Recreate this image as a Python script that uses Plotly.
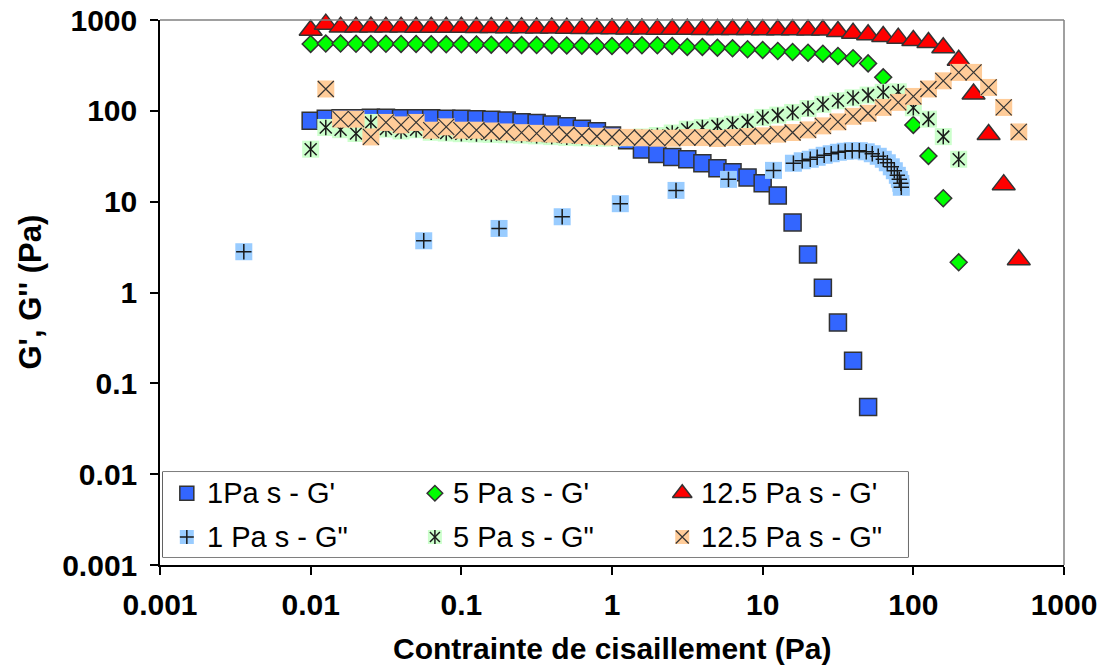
import plotly.graph_objects as go

# ---------------- data ----------------
stress = [0.01, 0.0126, 0.0158, 0.02, 0.0251, 0.0316, 0.0398, 0.0501, 0.0631, 0.0794,
          0.1, 0.126, 0.158, 0.2, 0.251, 0.316, 0.398, 0.501, 0.631, 0.794,
          1.0, 1.26, 1.58, 2.0, 2.51, 3.16, 3.98, 5.01, 6.31, 7.94,
          10.0, 12.6, 15.8, 20.0, 25.1, 31.6, 39.8, 50.1, 63.1, 79.4,
          100, 126, 158, 200, 251, 316, 398, 501]

g1_elastic = [78, 82, 83, 83, 84, 84, 83, 83, 83, 82,
              82, 81, 80, 78.5, 75, 73.5, 70.5, 67.5, 63.5, 59.5,
              53.5, 47.5, 37.5, 33.5, 31, 29.3, 26.5, 23.3, 21.1, 18.5,
              15.9, 11.7, 5.9, 2.62, 1.13, 0.466, 0.177, 0.055]

g5_elastic = [545, 550, 550, 548, 545, 548, 545, 545, 542, 540,
              540, 538, 535, 535, 532, 530, 528, 525, 522, 518,
              518, 527, 527, 527, 518, 505, 505, 496, 488, 476,
              468, 456, 444, 437, 426, 402, 379, 333, 234, 130,
              70, 31.9, 10.9, 2.15]

g12_elastic = [770, 900, 835, 835, 838, 835, 835, 832, 832, 830,
               830, 828, 826, 824, 820, 818, 815, 812, 808, 805,
               800, 798, 795, 793, 790, 790, 788, 786, 785, 784,
               783, 782, 780, 778, 775, 748, 716, 687, 659, 631,
               595, 566, 495, 360, 153, 55, 15.4, 2.3]

g1_visc_stress = [0.0036, 0.0563, 0.178, 0.467, 1.135, 2.66, 5.93, 11.8, 16.0,
                  18.3, 20.7, 23.0, 25.6, 28.5, 31.8, 35.3, 39.3, 43.8, 48.7,
                  53.4, 58.5, 63.2, 67.2, 71.4, 74.8, 78.3, 80.7, 82.6, 83.2]
g1_viscous = [2.81, 3.71, 5.07, 6.82, 9.5, 13.3, 17.6, 22.1, 26.5,
              28.2, 29.3, 30.8, 32.4, 33.7, 35.0, 35.9, 36.4, 36.4, 35.4,
              33.7, 31.6, 29.3, 26.8, 24.2, 21.9, 19.5, 17.6, 15.9, 14.4]

g5_viscous = [37.8, 65.6, 62, 56.3, 74.5, 63, 60, 62, 58, 57,
              56, 55.5, 55, 54.5, 54, 53, 52, 51, 50.5, 50,
              50, 50.5, 51.5, 53.5, 57, 62.8, 65.6, 68.3, 71.3, 75.6,
              84.6, 89.7, 96, 106, 118, 129, 139, 149, 160, 162,
              108, 81, 52, 29.3]

g12_viscous = [174, 81, 81, 51.6, 74.5, 70, 74.5, 61.2, 66.6,
               61.2, 61.2, 60, 58.5, 57.5, 56.5, 55.5, 54.5, 53.5, 52.5,
               51.5, 51, 50.5, 50, 50, 50.8, 50.8, 49.6, 50.8, 52.2,
               53, 55.3, 57.7, 61.7, 68.3, 75.6, 87, 94, 109, 124,
               144, 174, 214, 265, 265, 181, 109, 58.6]

tick_vals = [0.001, 0.01, 0.1, 1, 10, 100, 1000]
tick_text = ["0.001", "0.01", "0.1", "1", "10", "100", "1000"]

legend_labels = ["1Pa s - G'", "5 Pa s - G'", "12.5 Pa s - G'",
                 "1 Pa s - G\"", "5 Pa s - G\"", "12.5 Pa s - G\""]

# ---------------- styles ----------------
FONT = "Liberation Sans, Arial, sans-serif"
EDGE = "#333333"
C_BLUE, C_GREEN, C_RED = "#3366FF", "#00FF00", "#FF0000"
C_LBLUE, C_LGREEN, C_PEACH = "#99CCFF", "#CCFFCC", "#FFCC99"
INK = "#1a1a1a"


def filled(sym, size, color, line=True):
    return dict(symbol=sym, size=size, color=color,
                line=dict(color=EDGE, width=1.5 if line else 0))


def stroke(sym, size, width=1.5, color=INK):
    return dict(symbol=sym, size=size, color=color, line=dict(color=color, width=width))


series = [
    (stress[:len(g1_elastic)], g1_elastic,
     [filled("square", 17, C_BLUE)], [filled("square", 14, C_BLUE)]),
    (stress[:len(g5_elastic)], g5_elastic,
     [filled("diamond", 13, C_GREEN)], [filled("diamond", 12, C_GREEN)]),
    (stress[:len(g12_elastic)], g12_elastic,
     [filled("triangle-up", 20, C_RED)], [filled("triangle-up", 17, C_RED)]),
    (g1_visc_stress, g1_viscous,
     [filled("square", 17, C_LBLUE, False), stroke("cross-thin", 11)],
     [filled("square", 14, C_LBLUE, False), stroke("cross-thin", 10)]),
    (stress[:len(g5_viscous)], g5_viscous,
     [filled("square", 17, C_LGREEN, False), stroke("x-thin", 12), stroke("line-ns", 11)],
     [filled("square", 14, C_LGREEN, False), stroke("x-thin", 10), stroke("line-ns", 10)]),
    (stress[1:1 + len(g12_viscous)], g12_viscous,
     [filled("square", 17, C_PEACH, False), stroke("x-thin", 16, 1.2, "#333333")],
     [filled("square", 14, C_PEACH, False), stroke("x-thin", 13, 1.2, "#333333")]),
]

fig = go.Figure()

for xs, ys, layers, _ in series:
    for mk in layers:
        fig.add_trace(go.Scatter(x=xs, y=ys, mode="markers", marker=mk,
                                 cliponaxis=False, showlegend=False, hoverinfo="skip"))

# ---------------- manual legend (3 columns x 2 rows) ----------------
leg_col_marker = [0.032, 0.365, 0.697]
leg_col_text = [0.057, 0.387, 0.72]
leg_row = [0.75, 0.235]
for i, (_, _, _, leg_layers) in enumerate(series):
    r, c = divmod(i, 3)
    for mk in leg_layers:
        fig.add_trace(go.Scatter(x=[leg_col_marker[c]], y=[leg_row[r]], mode="markers",
                                 marker=mk, xaxis="x2", yaxis="y2", cliponaxis=False,
                                 showlegend=False, hoverinfo="skip"))
    fig.add_annotation(x=leg_col_text[c], y=leg_row[r], xref="x2", yref="y2",
                       text=legend_labels[i], showarrow=False, xanchor="left",
                       yanchor="middle", font=dict(family=FONT, size=29, color="black"))

L_X0, L_X1, L_Y0, L_Y1 = 0.0033, 0.8274, 0.0147, 0.1706

fig.add_shape(type="rect", xref="paper", yref="paper", x0=L_X0, x1=L_X1, y0=L_Y0, y1=L_Y1,
              line=dict(color="black", width=1.2), fillcolor="white", layer="below")
fig.add_shape(type="line", xref="paper", yref="paper", x0=0, x1=1, y0=1, y1=1,
              line=dict(color="#808080", width=1.5))
fig.add_shape(type="line", xref="paper", yref="paper", x0=1, x1=1, y0=0, y1=1,
              line=dict(color="#808080", width=1.5))

axis_common = dict(type="log", range=[-3, 3], tickvals=tick_vals, ticktext=tick_text,
                   ticks="outside", ticklen=8, tickwidth=1.5, tickcolor="black",
                   showline=True, linecolor="black", linewidth=1.5,
                   showgrid=False, zeroline=False, ticklabeloverflow="allow",
                   automargin=False,
                   tickfont=dict(family=FONT, size=30, color="black", weight="bold"))

fig.update_layout(
    width=1104, height=668,
    margin=dict(l=160, r=40, t=20, b=103),
    paper_bgcolor="white", plot_bgcolor="white",
    xaxis=dict(**axis_common, ticklabelstandoff=4),
    yaxis=dict(**axis_common, ticklabelstandoff=7),
    xaxis2=dict(domain=[L_X0, L_X1], range=[0, 1], visible=False, anchor="y2"),
    yaxis2=dict(domain=[L_Y0, L_Y1], range=[0, 1], visible=False, anchor="x2"),
    showlegend=False,
)

fig.add_annotation(x=0.5, y=-0.187, xref="paper", yref="paper", showarrow=False,
                   text="Contrainte de cisaillement (Pa)", xanchor="center", yanchor="bottom",
                   font=dict(family=FONT, size=30, color="black", weight="bold"))
fig.add_annotation(x=-0.1438, y=0.5, xref="paper", yref="paper", showarrow=False,
                   text="G', G'' (Pa)", textangle=-90, xanchor="center", yanchor="middle",
                   font=dict(family=FONT, size=31, color="black", weight="bold"))

# remove the browser's default 8px page margin so the figure fills the window exactly
fig.write_html("out.html", config={"displayModeBar": False},
               post_script="document.body.style.margin='0';")
